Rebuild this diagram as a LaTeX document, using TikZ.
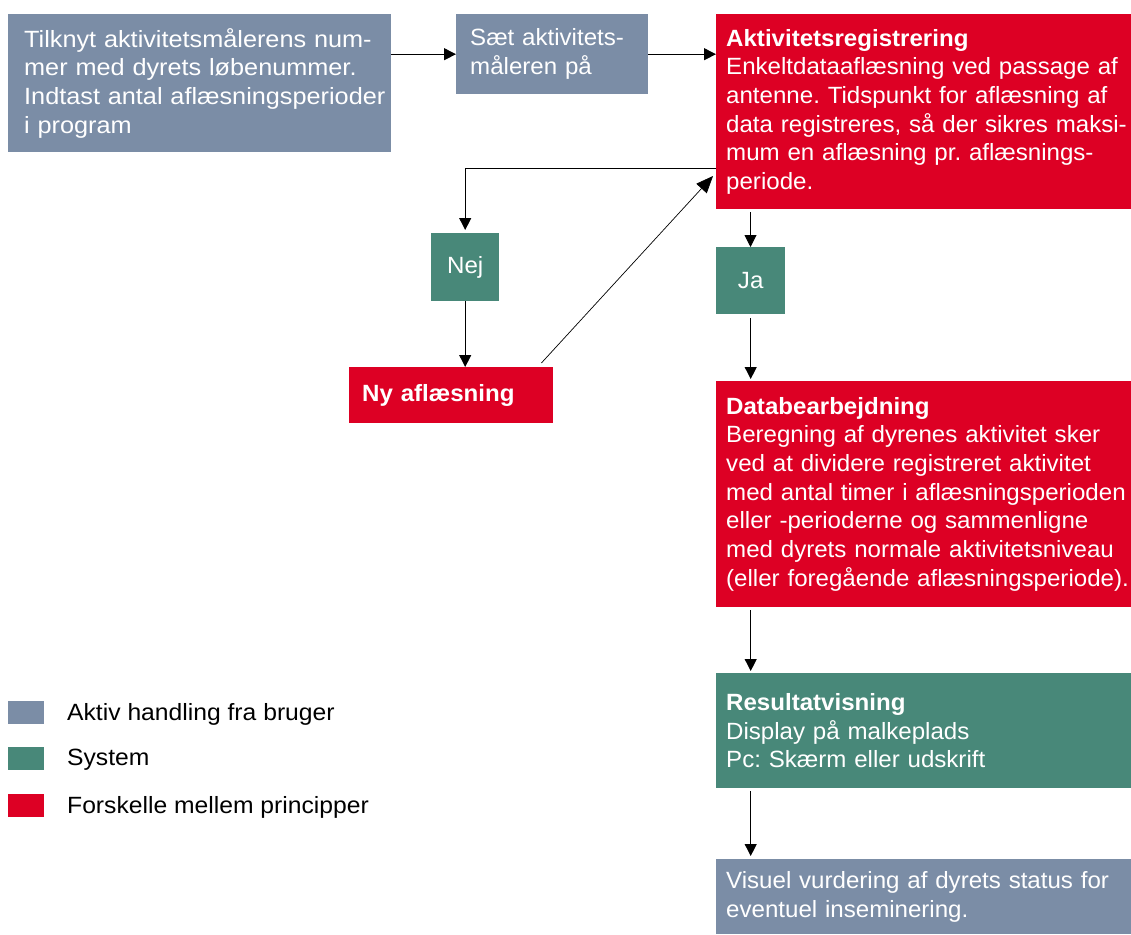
\documentclass[tikz,border=0pt]{standalone}
\usepackage{fontspec}
\setmainfont{Liberation Sans}[FakeStretch=1.05]
\newfontfamily\fa{Liberation Sans}[FakeStretch=1.075]
\newfontfamily\fb{Liberation Sans}[FakeStretch=1.025]
\usetikzlibrary{arrows.meta,calc}
\definecolor{cgray}{RGB}{123,141,166}
\definecolor{cgreen}{RGB}{72,136,121}
\definecolor{cred}{RGB}{221,0,36}
\frenchspacing
\begin{document}
\frenchspacing
\begin{tikzpicture}[x=1pt,y=-1pt,
  ff/.style={font=#1\fontsize{23.5}{28.7}\selectfont\frenchspacing},
  box/.style={anchor=north west, inner sep=0pt, text=white, ff=\fb,
    execute at begin node={\leftskip=#1pt\rightskip=-60pt plus 1fil\parfillskip=0pt plus 1fil\hyphenpenalty=10000}},
  box/.default=10,
  small/.style={anchor=north west, inner sep=0pt, align=center, text=white, ff=\fb},
  legbox/.style={anchor=north west, inner sep=0pt, minimum width=36, minimum height=23},
  legtext/.style={anchor=west, inner sep=0pt, ff=\rmfamily},
  arr/.style={-{Triangle[length=12pt,width=12pt]}, line width=0.9pt},
  bigarr/.style={-{Triangle[length=17pt,width=14pt]}, line width=0.7pt},
]
\useasboundingbox (0,0) rectangle (1131,934);

\node[box=16, ff=\fa, fill=cgray, minimum height=138, text width=383] (b1) at (8,14)
  {Tilknyt aktivitetsmålerens num-\\mer med dyrets løbenummer.\\Indtast antal aflæsningsperioder\\i program};
\node[box=14, fill=cgray, minimum height=80, text width=192] (b2) at (456,14)
  {Sæt aktivitets-\\måleren på};
\node[box, fill=cred, minimum height=195, text width=415] (reg) at (716,14)
  {\textbf{Aktivitetsregistrering}\\Enkeltdataaflæsning ved passage af\\antenne. Tidspunkt for aflæsning af\\data registreres, så der sikres maksi-\\mum en aflæsning pr. aflæsnings-\\periode.};
\node[small, fill=cgreen, minimum width=68, minimum height=68] (nej) at (431,233) {Nej};
\node[small, fill=cgreen, minimum width=69, minimum height=67] (ja) at (716,247) {Ja};
\node[box=13, fill=cred, minimum height=56, text width=204] (ny) at (349,367)
  {\textbf{Ny aflæsning}};
\node[box, fill=cred, minimum height=226, text width=415] (data) at (716,381)
  {\textbf{Databearbejdning}\\Beregning af dyrenes aktivitet sker\\ved at dividere registreret aktivitet\\med antal timer i aflæsningsperioden\\eller -perioderne og sammenligne\\med dyrets normale aktivitetsniveau\\(eller foregående aflæsningsperiode).};
\node[box, fill=cgreen, minimum height=115, text width=415] (res) at (716,673)
  {\textbf{Resultatvisning}\\Display på malkeplads\\Pc: Skærm eller udskrift};
\node[box, fill=cgray, minimum height=75, text width=415] (vis) at (716,859)
  {Visuel vurdering af dyrets status for\\eventuel inseminering.};

% legend
\node[legbox, fill=cgray] (l1) at (8,701) {};
\node[legbox, fill=cgreen] (l2) at (8,747) {};
\node[legbox, fill=cred] (l3) at (8,794) {};
\node[legtext] (t1) at (67,714) {Aktiv handling fra bruger};
\node[legtext] (t2) at (67,760) {System};
\node[legtext] (t3) at (67,807) {Forskelle mellem principper};

% connectors
\draw[arr] (b2.west -| b1.east) -- (b2.west);
\draw[arr] (b2.east) -- (b2.east -| reg.west);
\coordinate (rl) at ($(reg.north west)+(0,154)$);
\draw[arr] (rl) -| ([yshift=3pt]nej.north);
\draw[arr] (nej.south) -- (nej.south |- ny.north);
\coordinate (ds) at ($(ny.north east)+(-12,-4)$);
\coordinate (de) at ($(reg.north west)+(-3,162)$);
\draw[bigarr] (ds) -- (de);
\coordinate (jx) at ($(reg.south west)+(34.5,3)$);
\draw[arr] (jx) -- (jx |- ja.north);
\draw[arr] ($(ja.south)+(0,4)$) -- ([yshift=2pt]ja.south |- data.north);
\draw[arr] ($(ja.south |- data.south)+(0,3)$) -- ([yshift=2pt]ja.south |- res.north);
\draw[arr] ($(ja.south |- res.south)+(0,3)$) -- ([yshift=3pt]ja.south |- vis.north);
\end{tikzpicture}
\end{document}
